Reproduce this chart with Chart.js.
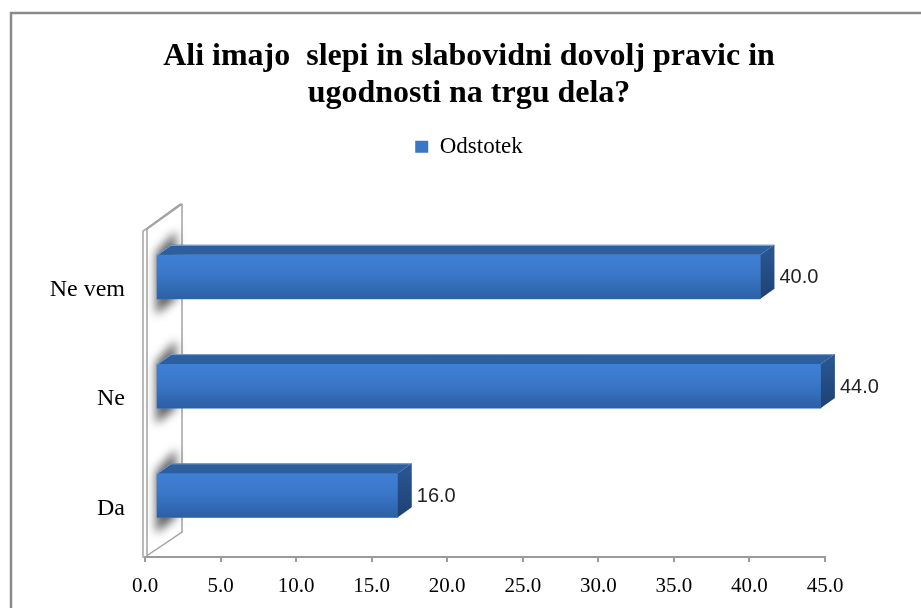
<!DOCTYPE html>
<html>
<head>
<meta charset="utf-8">
<script src="https://cdn.jsdelivr.net/npm/chart.js@4.4.1/dist/chart.umd.min.js"></script>
<style>
  html, body { margin: 0; padding: 0; background: #fff; }
</style>
</head>
<body>
<canvas id="anketa" width="921" height="608"></canvas>
<script>
// podatki ankete
const naslov = ['Ali imajo  slepi in slabovidni dovolj pravic in', 'ugodnosti na trgu dela?'];
const kategorije = ['Ne vem', 'Ne', 'Da'];
const odstotek = [40.0, 44.0, 16.0];
const osMin = 0;
const osMax = 45;
const osKorak = 5;

// 3D videz kvadrov
const GLOBINA_X = 14, GLOBINA_Y = 10;  // globina kvadra
const ZAMIK_X = 11, ZAMIK_Y = 7;       // kvadri stojijo malo za steno

const kvadri3d = {
  id: 'kvadri3d',
  beforeDraw(chart) {
    const c = chart.ctx;
    c.save();
    c.strokeStyle = '#8a8a8a';
    c.lineWidth = 2.5;
    c.strokeRect(11, 13, 1000, 1000);
    c.restore();
  },
  beforeDatasetsDraw(chart) {
    const c = chart.ctx, a = chart.chartArea;
    const L = a.left, T = a.top, B = a.bottom;

    // stranska stena
    c.save();
    c.strokeStyle = '#a3a3a3';
    c.lineWidth = 1.5;
    c.beginPath();
    c.moveTo(L - 2, B + 1);
    c.lineTo(L - 2, T + 2);
    c.lineTo(L + 35, T - 25);
    c.lineTo(L + 37, T - 25);
    c.lineTo(L + 37, B - 25);
    c.lineTo(L, B);
    c.moveTo(L + 2, B - 1);
    c.lineTo(L + 2, T);
    c.lineTo(L + 37, T - 25);
    c.stroke();
    c.restore();

    // sence kvadrov na steni
    const meta = chart.getDatasetMeta(0);
    c.save();
    c.translate(ZAMIK_X, -ZAMIK_Y);
    c.filter = 'blur(5px)';
    c.fillStyle = 'rgba(30,30,30,0.7)';
    meta.data.forEach(el => {
      const p = el.getProps(['x', 'y', 'base', 'height'], true);
      const top = p.y - p.height / 2, bottom = p.y + p.height / 2;
      c.beginPath();
      c.moveTo(p.base - 1, bottom + 16);
      c.lineTo(p.base - 1, top - 2);
      c.lineTo(p.base + GLOBINA_X + 5, top - GLOBINA_Y - 14);
      c.lineTo(p.base + GLOBINA_X + 5, bottom);
      c.closePath();
      c.fill();
    });
    c.restore();

    c.save();
    c.translate(ZAMIK_X, -ZAMIK_Y);
  },
  afterDatasetsDraw(chart) {
    const c = chart.ctx;
    const meta = chart.getDatasetMeta(0);
    const vrednosti = chart.data.datasets[0].data;

    meta.data.forEach((el, i) => {
      const p = el.getProps(['x', 'y', 'base', 'height'], true);
      const top = p.y - p.height / 2, bottom = p.y + p.height / 2;

      // sprednja ploskev
      const g = c.createLinearGradient(0, top, 0, bottom);
      g.addColorStop(0, '#3f80d5');
      g.addColorStop(0.45, '#3a77c9');
      g.addColorStop(1, '#2c5fa5');
      c.fillStyle = g;
      c.fillRect(p.base, top, p.x - p.base, p.height);

      // zgornja ploskev
      c.fillStyle = '#2d5e9d';
      c.beginPath();
      c.moveTo(p.base, top);
      c.lineTo(p.base + GLOBINA_X, top - GLOBINA_Y);
      c.lineTo(p.x + GLOBINA_X, top - GLOBINA_Y);
      c.lineTo(p.x, top);
      c.closePath();
      c.fill();
      c.strokeStyle = 'rgba(150,180,220,0.8)';
      c.lineWidth = 1;
      c.beginPath();
      c.moveTo(p.base, top + 0.5);
      c.lineTo(p.base + GLOBINA_X, top - GLOBINA_Y + 0.5);
      c.lineTo(p.x + GLOBINA_X, top - GLOBINA_Y + 0.5);
      c.stroke();

      // desna ploskev
      const gs = c.createLinearGradient(0, top - GLOBINA_Y, 0, bottom);
      gs.addColorStop(0, '#2a5896');
      gs.addColorStop(1, '#1e4173');
      c.fillStyle = gs;
      c.beginPath();
      c.moveTo(p.x, top);
      c.lineTo(p.x + GLOBINA_X, top - GLOBINA_Y);
      c.lineTo(p.x + GLOBINA_X, bottom - GLOBINA_Y);
      c.lineTo(p.x, bottom);
      c.closePath();
      c.fill();

      // vrednost
      c.fillStyle = '#222';
      c.font = '20px "Liberation Sans", Arial, sans-serif';
      c.textAlign = 'left';
      c.textBaseline = 'middle';
      c.fillText(vrednosti[i].toFixed(1), p.x + GLOBINA_X + 5, p.y + 1);
    });

    c.restore();
  }
};

const ctx = document.getElementById('anketa').getContext('2d');

new Chart(ctx, {
  type: 'bar',
  data: {
    labels: kategorije,
    datasets: [{
      label: 'Odstotek',
      data: odstotek,
      backgroundColor: '#3a76c6',
      borderWidth: 0,
      barThickness: 44
    }]
  },
  options: {
    indexAxis: 'y',
    responsive: false,
    animation: false,
    layout: { padding: { left: 17, right: 0, top: 0, bottom: 0 } },
    plugins: {
      title: {
        display: true,
        text: naslov,
        color: '#000',
        font: { family: '"Liberation Serif", "Times New Roman", serif', size: 32, weight: 'bold', lineHeight: 1.16 },
        padding: { top: 38, bottom: 13 }
      },
      legend: {
        display: true,
        labels: {
          color: '#000',
          boxWidth: 13,
          boxHeight: 12,
          padding: 10,
          font: { family: '"Liberation Serif", "Times New Roman", serif', size: 23 }
        }
      },
      tooltip: { enabled: false }
    },
    scales: {
      x: {
        min: osMin,
        max: osMax,
        ticks: {
          stepSize: osKorak,
          color: '#000',
          padding: 12,
          font: { family: '"Liberation Serif", "Times New Roman", serif', size: 21 },
          callback: v => Number(v).toFixed(1)
        },
        grid: { display: true, drawOnChartArea: false, drawTicks: true, tickLength: 5, color: '#9a9a9a', lineWidth: 2 },
        border: { display: true, color: '#9a9a9a', width: 2 },
        afterFit(s) { s.height = 51; }
      },
      y: {
        ticks: {
          color: '#000',
          padding: 12,
          labelOffset: 6,
          font: { family: '"Liberation Serif", "Times New Roman", serif', size: 24 }
        },
        grid: { display: false },
        border: { display: false },
        afterFit(s) { s.width = 128; }
      },
      razmakZgoraj: {
        type: 'linear',
        axis: 'x',
        position: 'top',
        grid: { display: false },
        border: { display: false },
        ticks: { display: false },
        afterFit(s) { s.height = 61; }
      },
      razmakDesno: {
        type: 'linear',
        axis: 'y',
        position: 'right',
        grid: { display: false },
        border: { display: false },
        ticks: { display: false },
        afterFit(s) { s.width = 96; }
      }
    }
  },
  plugins: [kvadri3d]
});
</script>
</body>
</html>
